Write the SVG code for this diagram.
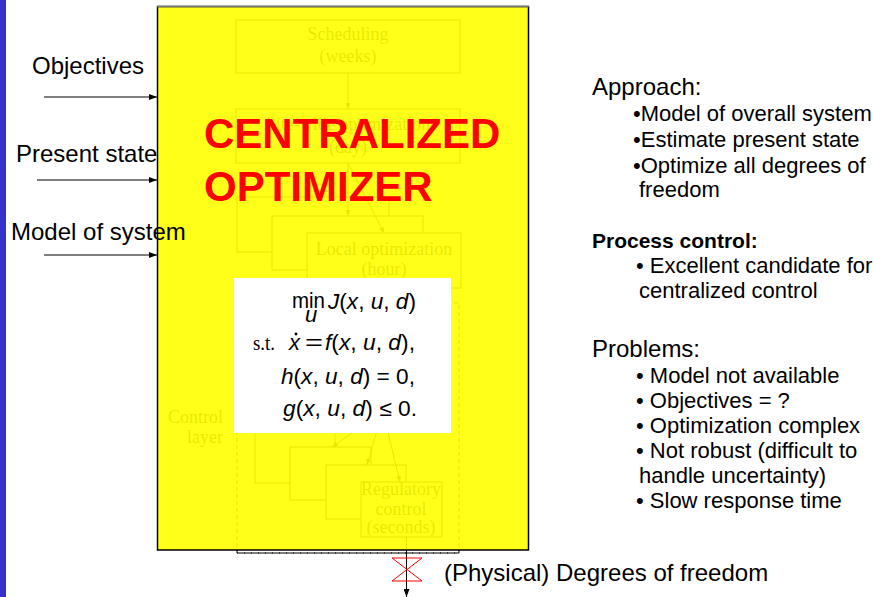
<svg xmlns="http://www.w3.org/2000/svg" width="873" height="597" viewBox="0 0 873 597">
<style>
.lbl{font-family:"Liberation Sans",Arial,sans-serif;font-size:24px;fill:#000}
.body{font-family:"Liberation Sans",Arial,sans-serif;font-size:22px;fill:#000}
.bold{font-family:"Liberation Sans",Arial,sans-serif;font-size:21px;font-weight:bold;fill:#000}
.faint{font-family:"Liberation Serif","Times New Roman",serif;font-size:18px;fill:#111;text-anchor:middle}
.box{fill:#fff;stroke:#111;stroke-width:1}
.ln{stroke:#111;stroke-width:1;fill:none}
.m{font-family:"Liberation Sans",Arial,sans-serif;font-size:22px;fill:#000}
.it{font-style:italic}
.red{font-family:"Liberation Sans",Arial,sans-serif;font-size:42px;font-weight:bold;fill:#ff0000}
</style>
<defs>
<marker id="ah" viewBox="0 0 8 6" refX="8" refY="3" markerWidth="8" markerHeight="6" orient="auto" markerUnits="userSpaceOnUse"><path d="M0,0 L8,3 L0,6 Z" fill="#000"/></marker>
<marker id="ahs" viewBox="0 0 6 5" refX="6" refY="2.5" markerWidth="6" markerHeight="5" orient="auto" markerUnits="userSpaceOnUse"><path d="M0,0 L6,2.5 L0,5 Z" fill="#111"/></marker>
</defs>

<rect id="sidebar" x="0" y="0" width="6" height="597" fill="#3333cc"/>

<!-- underlying hierarchy diagram (seen through the yellow overlay) -->
<g id="hierarchy">
  <rect id="control-layer" x="237" y="303" width="222" height="250" fill="none" stroke="#000" stroke-width="1" stroke-dasharray="4 3"/>
  <g id="scheduling">
    <rect class="box" x="236" y="20" width="224" height="53"/>
    <text class="faint" x="348" y="40">Scheduling</text>
    <text class="faint" x="348" y="62">(weeks)</text>
  </g>
  <g id="site-wide">
    <rect class="box" x="236" y="109" width="224" height="54"/>
    <text class="faint" x="348" y="130">Site-wide optimization</text>
    <text class="faint" x="348" y="153">(day)</text>
  </g>
  <g id="local-stack">
    <rect class="box" x="237" y="197" width="152" height="55"/>
    <rect class="box" x="272" y="216" width="151" height="54"/>
    <g id="local-opt">
      <rect class="box" x="307" y="233" width="154" height="55"/>
      <text class="faint" x="384" y="255">Local optimization</text>
      <text class="faint" x="384" y="275">(hour)</text>
    </g>
  </g>
  <g id="control-label">
    <text class="faint" x="223" y="423" style="text-anchor:end">Control</text>
    <text class="faint" x="223" y="443" style="text-anchor:end">layer</text>
  </g>
  <g id="control-stack">
    <rect class="box" x="255" y="430" width="80" height="53"/>
    <rect class="box" x="290" y="447" width="81" height="53"/>
    <rect class="box" x="326" y="465" width="80" height="54"/>
    <g id="regulatory">
      <rect class="box" x="361" y="482" width="81" height="55"/>
      <text class="faint" x="401" y="495">Regulatory</text>
      <text class="faint" x="401" y="515">control</text>
      <text class="faint" x="401" y="533">(seconds)</text>
    </g>
  </g>
</g>

<g id="connectors">
  <line class="ln" x1="348" y1="73" x2="348" y2="109" marker-end="url(#ahs)"/>
  <line class="ln" x1="348" y1="163" x2="348" y2="216" marker-end="url(#ahs)"/>
  <line class="ln" x1="348" y1="163" x2="384" y2="233" marker-end="url(#ahs)"/>
  <line class="ln" x1="370" y1="420" x2="332" y2="447" marker-end="url(#ahs)"/>
  <line class="ln" x1="380" y1="420" x2="367" y2="465" marker-end="url(#ahs)"/>
  <line class="ln" x1="385" y1="420" x2="400" y2="482" marker-end="url(#ahs)"/>
  <line x1="406.5" y1="537" x2="406.5" y2="597" stroke="#000" stroke-width="1" marker-end="url(#ah)"/>
</g>

<!-- yellow semi-transparent optimizer -->
<g id="centralized-optimizer">
  <rect x="157.5" y="6.5" width="371" height="543.5" fill="#ffff00" fill-opacity="0.9" stroke="#000" stroke-width="1.5"/>
  <line x1="157" y1="6.5" x2="529" y2="6.5" stroke="#777" stroke-width="1.5"/>
  <g id="equations">
    <rect x="234" y="278" width="217" height="155" fill="#fff"/>
    <text class="m" x="292" y="308" textLength="33" lengthAdjust="spacingAndGlyphs">min</text>
    <text class="m it" x="305" y="322" font-size="14">u</text>
    <text class="m" x="328" y="309" textLength="88" lengthAdjust="spacingAndGlyphs"><tspan class="it">J</tspan>(<tspan class="it">x</tspan>, <tspan class="it">u</tspan>, <tspan class="it">d</tspan>)</text>
    <text x="253" y="350" font-family="Liberation Serif, Times New Roman, serif" font-size="21" textLength="22" lengthAdjust="spacingAndGlyphs">s.t.</text>
    <text class="m it" x="289" y="350">x</text>
    <circle cx="296" cy="334" r="1.4" fill="#000"/>
    <text class="m" x="305" y="350" textLength="18" lengthAdjust="spacingAndGlyphs">=</text>
    <text class="m" x="325" y="350" textLength="90" lengthAdjust="spacingAndGlyphs"><tspan class="it">f</tspan>(<tspan class="it">x</tspan>, <tspan class="it">u</tspan>, <tspan class="it">d</tspan>),</text>
    <text class="m" x="281" y="384" textLength="134" lengthAdjust="spacingAndGlyphs"><tspan class="it">h</tspan>(<tspan class="it">x</tspan>, <tspan class="it">u</tspan>, <tspan class="it">d</tspan>) = 0,</text>
    <text class="m" x="283" y="416" textLength="134" lengthAdjust="spacingAndGlyphs"><tspan class="it">g</tspan>(<tspan class="it">x</tspan>, <tspan class="it">u</tspan>, <tspan class="it">d</tspan>) ≤ 0.</text>
  </g>
  <text class="red" x="204" y="148">CENTRALIZED</text>
  <text class="red" x="204" y="201">OPTIMIZER</text>
</g>

<!-- outside dashed bottom of control layer -->
<line x1="237" y1="553" x2="460" y2="553" stroke="#000" stroke-width="1.2" stroke-dasharray="4 3"/>

<g id="inputs">
  <text class="lbl" x="32" y="74">Objectives</text>
  <line x1="44" y1="97" x2="157" y2="97" stroke="#000" stroke-width="1" marker-end="url(#ah)"/>
  <text class="lbl" x="16" y="162">Present state</text>
  <line x1="37" y1="180" x2="157" y2="180" stroke="#000" stroke-width="1" marker-end="url(#ah)"/>
  <text class="lbl" x="11" y="240">Model of system</text>
  <line x1="44" y1="255" x2="157" y2="255" stroke="#000" stroke-width="1" marker-end="url(#ah)"/>
</g>

<g id="dof">
  <path d="M392,558 H422 L392,581 H422 Z" fill="none" stroke="#ff0000" stroke-width="1"/>
  <text class="lbl" x="444" y="581">(Physical) Degrees of freedom</text>
</g>

<g id="notes">
  <text class="lbl" x="592" y="95">Approach:</text>
  <text class="body" x="633" y="121">•Model of overall system</text>
  <text class="body" x="633" y="147">•Estimate present state</text>
  <text class="body" x="633" y="173">•Optimize all degrees of</text>
  <text class="body" x="639" y="197">freedom</text>
  <text class="bold" x="592" y="248">Process control:</text>
  <text class="body" x="636" y="273">• Excellent candidate for</text>
  <text class="body" x="639" y="298">centralized control</text>
  <text class="lbl" x="592" y="357">Problems:</text>
  <text class="body" x="636" y="383">• Model not available</text>
  <text class="body" x="636" y="408">• Objectives = ?</text>
  <text class="body" x="636" y="433">• Optimization complex</text>
  <text class="body" x="636" y="458">• Not robust (difficult to</text>
  <text class="body" x="639" y="483">handle uncertainty)</text>
  <text class="body" x="636" y="508">• Slow response time</text>
</g>
</svg>
